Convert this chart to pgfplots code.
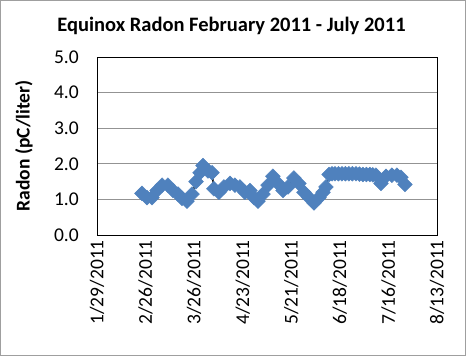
\documentclass[border=0pt]{standalone}
\usepackage{pgfplots}
\pgfplotsset{compat=1.18}
\usepackage{fontspec}
\setmainfont{Carlito}
\definecolor{exblue}{RGB}{79,129,189}
\begin{document}
\begin{tikzpicture}
\path[use as bounding box] (-97bp,-121bp) rectangle (369bp,235bp);
\draw[gray!75, line width=0.8bp] (-96.5bp,-120.5bp) rectangle (368.5bp,234.5bp);
\begin{axis}[
  at={(0,0)}, anchor=south west,
  scale only axis, width=340bp, height=178bp,
  xmin=0, xmax=196, ymin=0, ymax=5,
  xtick={0,28,...,196},
  xticklabels={1/29/2011,2/26/2011,3/26/2011,4/23/2011,5/21/2011,6/18/2011,7/16/2011,8/13/2011},
  ytick={0,1,...,5},
  yticklabel={\pgfmathprintnumber[fixed,fixed zerofill,precision=1]{\tick}},
  /pgf/number format/assume math mode=true,
  major tick length=0pt,
  ymajorgrids, grid style={gray!85, line width=0.8bp},
  axis line style={black, line width=0.8bp},
  tick label style={font=\fontsize{19.5bp}{22bp}\selectfont},
  xticklabel style={rotate=90, anchor=east, inner sep=0pt},
  xticklabel shift=5bp,
  yticklabel style={anchor=east, inner sep=0pt},
  yticklabel shift=18bp,
  ylabel={\textbf{Radon (pC/liter)}},
  ylabel style={at={(axis description cs:-0.215,0.5)}, anchor=center, font=\fontsize{19.5bp}{22bp}\selectfont},
  title={\textbf{Equinox Radon February 2011 - July 2011}},
  title style={at={(axis description cs:0.3956,1.112)}, anchor=base, font=\fontsize{20.5bp}{24bp}\selectfont},
]
\addplot[black, line width=1.5bp, mark=square*, mark size=5.2bp,
  mark options={rotate=45, fill=exblue, draw=exblue, line width=0.5bp}]
coordinates {
(25.9,1.17)(28.8,1.05)(31.7,1.05)(34.6,1.25)(37.5,1.4)(40.9,1.4)(43.8,1.25)
(46.7,1.15)(49.0,1.03)(51.9,0.95)(54.8,1.15)(57.1,1.5)(59.4,1.75)(61.1,1.95)
(64.0,1.8)(66.3,1.75)(67.4,1.3)(70.3,1.2)(73.2,1.35)(76.7,1.45)(79.5,1.4)
(82.4,1.35)(85.3,1.2)(88.2,1.25)(90.5,1.05)(92.8,0.95)(95.7,1.15)(98.6,1.4)
(101.4,1.65)(104.3,1.45)(107.2,1.25)(110.1,1.35)(113.5,1.6)(116.4,1.45)
(119.3,1.2)(122.2,1.05)(125.1,0.9)(128.0,1.05)(130.3,1.2)(132.0,1.35)
(133.8,1.7)(135.5,1.72)(137.2,1.72)(139.2,1.72)(141.2,1.72)(143.2,1.72)
(145.2,1.72)(147.2,1.72)(149.3,1.72)(151.3,1.71)(153.3,1.7)(155.3,1.7)
(157.3,1.7)(159.0,1.69)(160.8,1.68)(163.7,1.45)(166.6,1.65)(170.0,1.68)(172.9,1.68)
(175.2,1.62)(177.5,1.42)
};
\end{axis}
\end{tikzpicture}
\end{document}
